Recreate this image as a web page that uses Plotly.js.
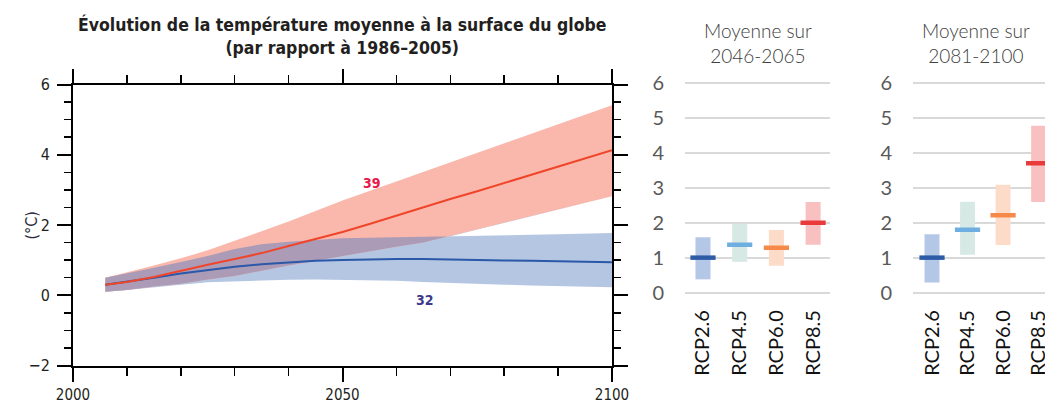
<!DOCTYPE html>
<html><head><meta charset="utf-8">
<script src="https://cdn.plot.ly/plotly-3.0.1.min.js"></script>
<style>html,body{margin:0;padding:0;background:#fff;}#chart{width:1045px;height:403px;}</style>
</head><body><div id="chart"></div>
<script>
// ---- Time series (relative to 1986–2005), °C ----
const years      = [2006,2010,2015,2020,2025,2030,2035,2040,2045,2050,2055,2060,2065,2070,2075,2080,2085,2090,2095,2100];
const rcp85Mean  = [0.30,0.38,0.52,0.70,0.87,1.03,1.20,1.40,1.60,1.80,2.03,2.27,2.52,2.74,2.96,3.19,3.42,3.65,3.90,4.13];
const rcp85Low   = [0.10,0.15,0.25,0.33,0.45,0.55,0.70,0.85,1.00,1.12,1.25,1.38,1.50,1.68,1.87,2.06,2.25,2.44,2.63,2.82];
const rcp85High  = [0.50,0.65,0.85,1.05,1.28,1.55,1.82,2.10,2.40,2.70,2.97,3.24,3.52,3.80,4.07,4.34,4.60,4.87,5.14,5.41];
const rcp26Mean  = [0.30,0.38,0.50,0.62,0.72,0.81,0.88,0.94,0.98,1.00,1.02,1.03,1.03,1.01,1.00,0.99,0.98,0.97,0.96,0.94];
const rcp26Low   = [0.10,0.15,0.22,0.30,0.37,0.40,0.42,0.44,0.45,0.45,0.43,0.41,0.38,0.35,0.32,0.30,0.28,0.26,0.24,0.23];
const rcp26High  = [0.50,0.62,0.78,0.95,1.12,1.32,1.45,1.52,1.57,1.62,1.64,1.65,1.66,1.68,1.70,1.70,1.72,1.74,1.75,1.77];
const modelCount85 = '39';
const modelCount26 = '32';

// ---- Period means ----
const categories = ['RCP2.6','RCP4.5','RCP6.0','RCP8.5'];
const midLow  = [0.40,0.90,0.79,1.39];
const midHigh = [1.60,1.98,1.81,2.61];
const midMean = [1.02,1.39,1.30,2.02];
const endLow  = [0.31,1.10,1.38,2.61];
const endHigh = [1.69,2.62,3.10,4.79];
const endMean = [1.02,1.82,2.23,3.72];

const leftYTicks = [-2,0,2,4,6];
const leftXTicks = [2000,2050,2100];
const panelYTicks = [0,1,2,3,4,5,6];

const rangeColors = ['#b4c7e7','#d6e9e5','#fcdcc8','#f9c0c1'];
const meanColors  = ['#2e5ba5','#6eaee0','#f5894a','#e93a3c'];

function band(lo, hi){
  return {x: years.concat(years.slice().reverse()), y: hi.concat(lo.slice().reverse())};
}
const ovLow = years.map((_, i) => Math.max(rcp85Low[i], rcp26Low[i]));
const ovHigh = years.map((_, i) => Math.max(ovLow[i], Math.min(rcp85High[i], rcp26High[i])));

const b26 = band(rcp26Low, rcp26High);
const b85 = band(rcp85Low, rcp85High);
const bOv = band(ovLow, ovHigh);

const traces = [
  {x: b26.x, y: b26.y, fill:'toself', fillcolor:'#b4c6e2', line:{width:0}, mode:'lines', hoverinfo:'skip', xaxis:'x', yaxis:'y'},
  {x: b85.x, y: b85.y, fill:'toself', fillcolor:'#f9b8ab', line:{width:0}, mode:'lines', hoverinfo:'skip', xaxis:'x', yaxis:'y'},
  {x: bOv.x, y: bOv.y, fill:'toself', fillcolor:'#ab9bb6', line:{width:0}, mode:'lines', hoverinfo:'skip', xaxis:'x', yaxis:'y'},
  {x: years, y: rcp26Mean, mode:'lines', line:{color:'#2b58a8', width:2}, xaxis:'x', yaxis:'y'},
  {x: years, y: rcp85Mean, mode:'lines', line:{color:'#f0452a', width:2}, xaxis:'x', yaxis:'y'},
  // panel 1
  {type:'bar', x: categories, y: midHigh.map((h,i)=>h-midLow[i]), base: midLow, width:0.41,
   marker:{color: rangeColors, line:{width:0}}, xaxis:'x2', yaxis:'y2'},
  {type:'scatter', mode:'markers', x: categories, y: midMean,
   marker:{symbol:'line-ew', size:18, line:{width:4.5, color: meanColors}}, xaxis:'x2', yaxis:'y2'},
  // panel 2
  {type:'bar', x: categories, y: endHigh.map((h,i)=>h-endLow[i]), base: endLow, width:0.42,
   marker:{color: rangeColors, line:{width:0}}, xaxis:'x3', yaxis:'y3'},
  {type:'scatter', mode:'markers', x: categories, y: endMean,
   marker:{symbol:'line-ew', size:18, line:{width:4.5, color: meanColors}}, xaxis:'x3', yaxis:'y3'}
];

const W = 1045, H = 403;
const px = v => v / W, py = v => 1 - v / H;
const narrow = 'Liberation Sans Narrow, DejaVu Sans Condensed, sans-serif';
const light = 'Lato, Open Sans, sans-serif';

const leftAxisCommon = {
  showline:true, linecolor:'#000', linewidth:2, mirror:'allticks',
  ticks:'outside', tickcolor:'#000', tickwidth:2, ticklen:14,
  showgrid:false, zeroline:false,
  tickfont:{family:narrow, size:16, color:'#231f20'}
};

const panelY = {
  range:[-0.05, 6.05], tickvals: panelYTicks, showgrid:true, gridcolor:'#d9d9d9', gridwidth:2,
  zeroline:false, showline:false, ticks:'', ticklabelstandoff:20,
  tickfont:{family:light, size:20, color:'#595959'}
};
const panelX = {
  type:'category', showgrid:false, zeroline:false, showline:false, ticks:'', tickangle:-90,
  ticklabelstandoff:10, tickfont:{family:light, size:20, color:'#111'}
};

const layout = {
  width:W, height:H, margin:{l:0,r:0,t:0,b:0}, showlegend:false,
  paper_bgcolor:'#fff', plot_bgcolor:'rgba(0,0,0,0)',
  xaxis: Object.assign({}, leftAxisCommon, {
    domain:[px(73), px(612)], range:[2000,2100], tickvals: leftXTicks, ticktext: leftXTicks.map(String),
    minor:{dtick:10, tick0:2000, ticks:'outside', ticklen:8, tickwidth:1.5, tickcolor:'#000'},
    anchor:'y', ticklabelstandoff:0, tickfont:{family:narrow, size:15, color:'#231f20'}
  }),
  yaxis: Object.assign({}, leftAxisCommon, {
    domain:[py(365.5), py(84.5)], range:[-2,6], tickvals: leftYTicks,
    minor:{dtick:0.5, tick0:0, ticks:'outside', ticklen:7, tickwidth:1.5, tickcolor:'#000'},
    anchor:'x', ticklabelstandoff:4
  }),
  xaxis2: Object.assign({}, panelX, {domain:[px(685), px(830)], range:[-0.49, 3.46], anchor:'y2'}),
  yaxis2: Object.assign({}, panelY, {domain:[py(295.1), py(81.6)], anchor:'x2'}),
  xaxis3: Object.assign({}, panelX, {domain:[px(913), 1], range:[-0.535, 3.18], anchor:'y3'}),
  yaxis3: Object.assign({}, panelY, {domain:[py(295.1), py(81.6)], anchor:'x3'}),
  annotations:[
    {text:'Évolution de la température moyenne à la surface du globe<br>(par rapport à 1986–2005)',
     xref:'paper', yref:'paper', x:px(342), y:py(12), xanchor:'center', yanchor:'top', showarrow:false,
     font:{family:narrow, size:17.5, color:'#231f20', weight:'bold'}},
    {text:'(°C)', xref:'paper', yref:'paper', x:px(20), y:py(226), textangle:-90, showarrow:false,
     font:{family:narrow, size:16, color:'#2a2a40'}},
    {text: modelCount85, xref:'x', yref:'y', x:2055.5, y:3.2, showarrow:false,
     font:{family:narrow, size:14, color:'#e8194a', weight:'bold'}},
    {text: modelCount26, xref:'x', yref:'y', x:2065.3, y:-0.14, showarrow:false,
     font:{family:narrow, size:14, color:'#3d3a8a', weight:'bold'}},
    {text:'Moyenne sur<br>2046-2065', xref:'paper', yref:'paper', x:px(758), y:py(43), xanchor:'center', yanchor:'middle',
     showarrow:false, font:{family:light, size:19, color:'#404040', weight:300}},
    {text:'Moyenne sur<br>2081-2100', xref:'paper', yref:'paper', x:px(976), y:py(43), xanchor:'center', yanchor:'middle',
     showarrow:false, font:{family:light, size:19, color:'#404040', weight:300}}
  ]
};

Plotly.newPlot('chart', traces, layout, {staticPlot:true, displayModeBar:false});
</script>
</body></html>
